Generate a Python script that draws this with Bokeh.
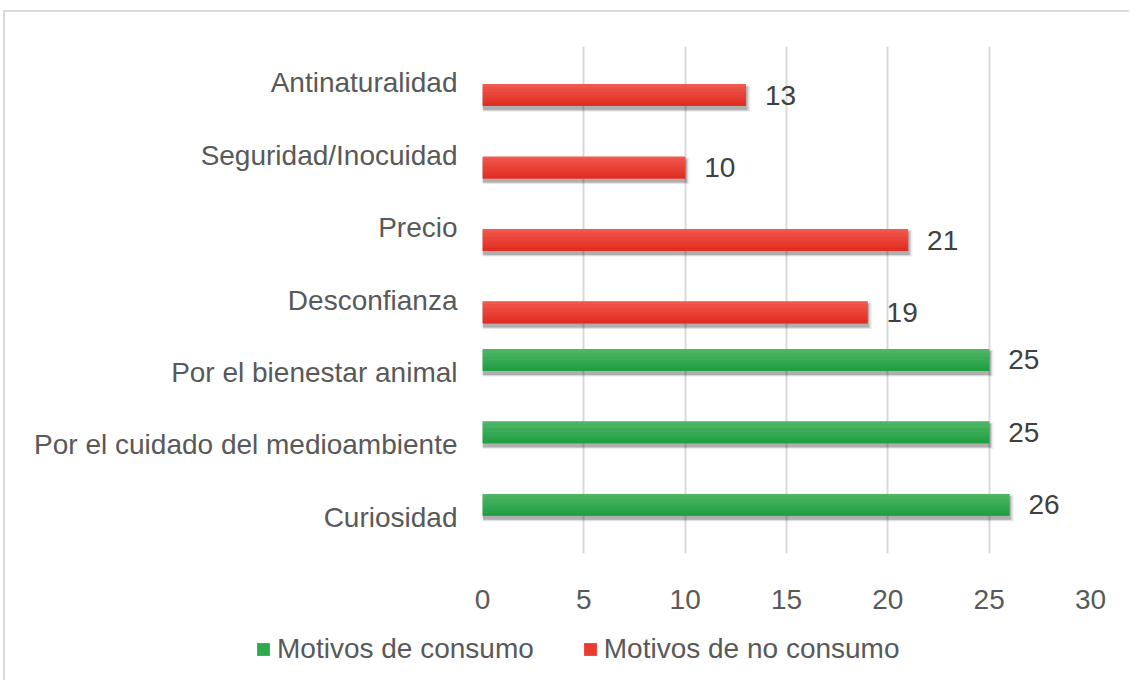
from bokeh.plotting import figure
from bokeh.layouts import column
from bokeh.models import FactorRange, Legend, LegendItem, ColumnDataSource, FixedTicker
from bokeh.transform import dodge
from bokeh.core.properties import value
from bokeh.embed import file_html
from bokeh.resources import INLINE

# ---- data ----
categories = ["Curiosidad", "Por el cuidado del medioambiente", "Por el bienestar animal",
              "Desconfianza", "Precio", "Seguridad/Inocuidad", "Antinaturalidad"]
consumo_cats = ["Curiosidad", "Por el cuidado del medioambiente", "Por el bienestar animal"]
consumo_vals = [26, 25, 25]
no_consumo_cats = ["Desconfianza", "Precio", "Seguridad/Inocuidad", "Antinaturalidad"]
no_consumo_vals = [19, 21, 10, 13]
x_ticks = [0, 5, 10, 15, 20, 25, 30]
series_names = ["Motivos de consumo", "Motivos de no consumo"]

FONT = "Liberation Sans"
GRAY = "#595959"
GREEN = ("#4DB665", "#229F44", "#2EA94C")
RED = ("#F1574D", "#E12E22", "#EA3B30")

p = figure(width=1124, height=608, x_range=(0, 30), y_range=FactorRange(factors=categories),
           output_backend="svg", toolbar_location=None,
           min_border_left=477, min_border_right=39, min_border_top=34, min_border_bottom=67)
p.frame_align = False
p.outline_line_color = None
p.background_fill_color = "white"
p.border_fill_color = "white"

# axes
p.xaxis.ticker = FixedTicker(ticks=x_ticks)
p.xaxis.axis_line_color = None
p.xaxis.major_tick_line_color = None
p.xaxis.minor_tick_line_color = None
p.xaxis.major_label_text_font = FONT
p.xaxis.major_label_text_font_size = "28px"
p.xaxis.major_label_text_color = GRAY
p.xaxis.major_label_standoff = 30
p.yaxis.axis_line_color = None
p.yaxis.major_tick_line_color = None
p.yaxis.major_label_text_font = FONT
p.yaxis.major_label_text_font_size = "28px"
p.yaxis.major_label_text_color = GRAY
p.yaxis.major_label_standoff = 19
p.xgrid.grid_line_color = "#D9D9D9"
p.xgrid.grid_line_width = 2
p.ygrid.grid_line_color = None

H = 0.30
OFF = 0.172


def lerp(c1, c2, t):
    a = [int(c1[i:i + 2], 16) for i in (1, 3, 5)]
    b = [int(c2[i:i + 2], 16) for i in (1, 3, 5)]
    return "#%02x%02x%02x" % tuple(round(a[k] + (b[k] - a[k]) * t) for k in range(3))


def draw_series(cats, vals, off, cols):
    top_col, bot_col, mid_col = cols
    src = ColumnDataSource(dict(cat=cats, val=vals, label=[str(v) for v in vals]))
    # soft shadow
    for k, a in [(3, 0.07), (2, 0.11), (1, 0.17)]:
        p.hbar(y=dodge("cat", off - 0.045, range=p.y_range), left=0,
               right=dodge("val", 0.07 * k, range=p.x_range),
               height=H + 0.022 * k, source=src, fill_color="black", fill_alpha=a, line_color=None)
    p.hbar(y=dodge("cat", off, range=p.y_range), left=0, right="val", height=H,
           source=src, fill_color=mid_col, line_color=None)
    n = 8
    for i in range(n):
        col = lerp(top_col, bot_col, i / (n - 1))
        so = off + H / 2 - (i + 0.5) * H / n
        p.hbar(y=dodge("cat", so, range=p.y_range), left=0, right="val", height=H / n * 1.06,
               source=src, fill_color=col, line_color=None)
    p.text(x="val", y=dodge("cat", off, range=p.y_range), text="label", source=src,
           x_offset=19, text_align="left", text_baseline="middle",
           text_font=value(FONT), text_font_size="28px", text_color="#404040")


draw_series(consumo_cats, consumo_vals, OFF, GREEN)
draw_series(no_consumo_cats, no_consumo_vals, -OFF, RED)

# ---- legend strip ----
p2 = figure(width=1124, height=60, x_range=(0, 1), y_range=(0, 1),
            output_backend="svg", toolbar_location=None,
            x_axis_location=None, y_axis_location=None, min_border=0)
p2.frame_align = False
p2.outline_line_color = None
p2.grid.grid_line_color = None
# legend-key renderers (kept outside the visible y range of the strip)
key_src = ColumnDataSource(dict(y=[-5], right=[0.5]))
rg = p2.hbar(y="y", right="right", height=0.1, source=key_src,
             fill_color=GREEN[2], line_color=None)
rr = p2.hbar(y="y", right="right", height=0.1, source=key_src,
             fill_color=RED[2], line_color=None)
legend = Legend(items=[LegendItem(label=series_names[0], renderers=[rg]),
                       LegendItem(label=series_names[1], renderers=[rr])],
                orientation="horizontal", location=(250, 15))
legend.label_text_font = FONT
legend.label_text_font_size = "28px"
legend.label_text_color = GRAY
legend.glyph_width = 16
legend.glyph_height = 16
legend.label_standoff = 6
legend.spacing = 48
legend.padding = 0
legend.margin = 0
legend.border_line_color = None
legend.background_fill_alpha = 0
p2.add_layout(legend, "center")

layout = column(p, p2, spacing=0)
layout.styles = {"border-top": "2px solid #D9D9D9", "border-left": "2px solid #D9D9D9",
                 "margin-left": "3px", "margin-top": "10px"}

open("out.html", "w").write(file_html(layout, INLINE))
